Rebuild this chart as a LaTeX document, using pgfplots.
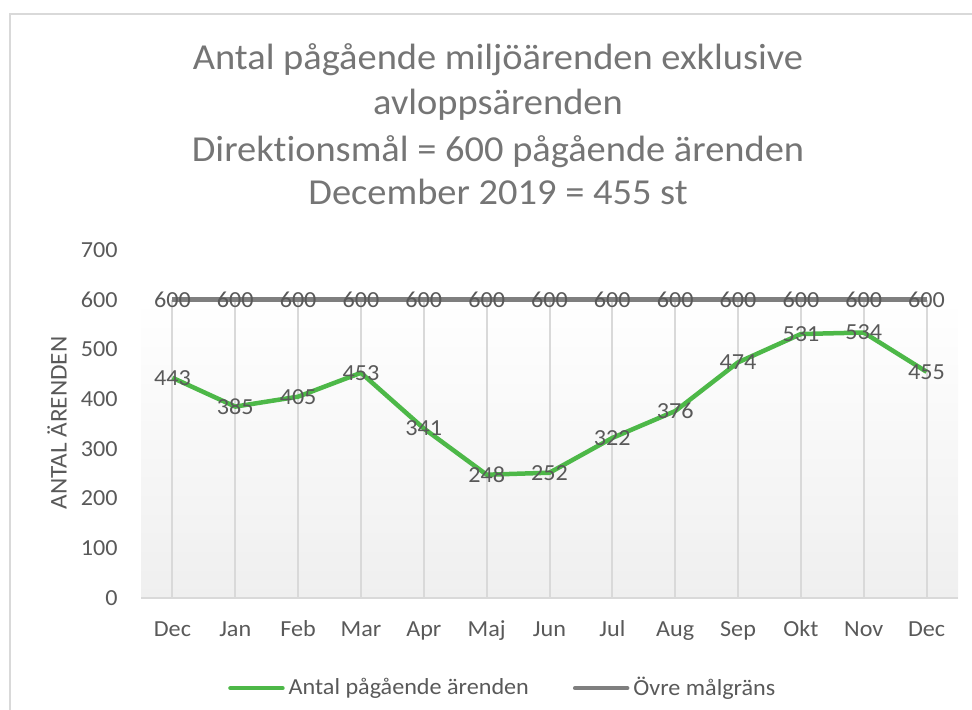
\documentclass[border=0pt]{standalone}
\usepackage{pgfplots}
\pgfplotsset{compat=1.18}
\usepackage{fontspec}
\setmainfont{Carlito}[FakeStretch=1.05, Ligatures=CommonOff]
\definecolor{txt}{HTML}{595959}
\definecolor{ttl}{HTML}{757575}
\definecolor{grn}{HTML}{4DB848}
\definecolor{gry}{HTML}{7F7F7F}
\definecolor{gridc}{HTML}{D9D9D9}
\definecolor{bgb}{HTML}{EFEFEF}
\begin{document}
\begin{tikzpicture}[x=0.5pt,y=-0.5pt]
\useasboundingbox (0,0) rectangle (972,710);
\draw[gridc, line width=0.75pt] (975,14) -- (10,14) -- (10,715);
\begin{scope}[every node/.style={ttl, font=\fontsize{18.3}{20}\selectfont, anchor=base, inner sep=0pt}]
\node at (498,70) {Antal pågående miljöärenden exklusive};
\node at (498,115) {avloppsärenden};
\node at (498,162) {Direktionsmål = 600 pågående ärenden};
\node at (498,205) {December 2019 = 455 st};
\end{scope}
\node[txt, rotate=90, font=\fontsize{12}{14}\selectfont, inner sep=0pt] at (57,423) {ANTAL ÄRENDEN};
\coordinate (ax) at (141,598);
\begin{axis}[
  at={(ax)}, anchor=south west,
  scale only axis, width=408.5pt, height=174pt,
  xmin=-0.5, xmax=12.5, ymin=0, ymax=700,
  /pgf/number format/assume math mode=true,
  axis line style={draw=none},
  major tick length=0pt,
  xtick={0,...,12},
  xticklabels={Dec,Jan,Feb,Mar,Apr,Maj,Jun,Jul,Aug,Sep,Okt,Nov,Dec},
  ytick={0,100,...,700},
  tick label style={txt, font=\fontsize{11.5}{13}\selectfont},
  xticklabel style={anchor=base, inner sep=0pt, yshift=-19pt},
  yticklabel style={anchor=east, inner sep=0pt, xshift=-11.5pt},
  clip=false,
  legend columns=2,
  legend style={draw=none, fill=none, at={(0.444,-0.259)}, anchor=center,
    font=\fontsize{11.5}{13}\selectfont, text=txt,
    /tikz/every even column/.append style={column sep=20pt},
    inner sep=0pt},
  legend cell align=left,
  legend image code/.code={\draw[#1, line cap=round] (0pt,0pt) -- (26pt,0pt);},
  nodes near coords,
  every node near coord/.append style={txt, anchor=center, font=\fontsize{11.5}{13}\selectfont, inner sep=0pt},
]
\addplot[draw=none, top color=white, bottom color=bgb, nodes near coords={}, forget plot]
  coordinates {(-0.5,600) (12.5,600)} \closedcycle;
\addplot[ycomb, gridc, line width=1pt, mark=none, nodes near coords={}, forget plot]
  coordinates {(0,600) (1,600) (2,600) (3,600) (4,600) (5,600) (6,600) (7,600) (8,600) (9,600) (10,600) (11,600) (12,600)};
\addplot[gridc, line width=1pt, mark=none, nodes near coords={}, forget plot]
  coordinates {(-0.5,0) (12.5,0)};
\addplot[grn, line width=2.25pt, mark=none, line join=round]
  coordinates {(0,443) (1,385) (2,405) (3,453) (4,341) (5,248) (6,252) (7,322) (8,376) (9,474) (10,531) (11,534) (12,455)};
\addlegendentry{Antal pågående ärenden}
\addplot[gry, line width=2.25pt, mark=none]
  coordinates {(0,600) (1,600) (2,600) (3,600) (4,600) (5,600) (6,600) (7,600) (8,600) (9,600) (10,600) (11,600) (12,600)};
\addlegendentry{Övre målgräns}
\end{axis}
\end{tikzpicture}
\end{document}
